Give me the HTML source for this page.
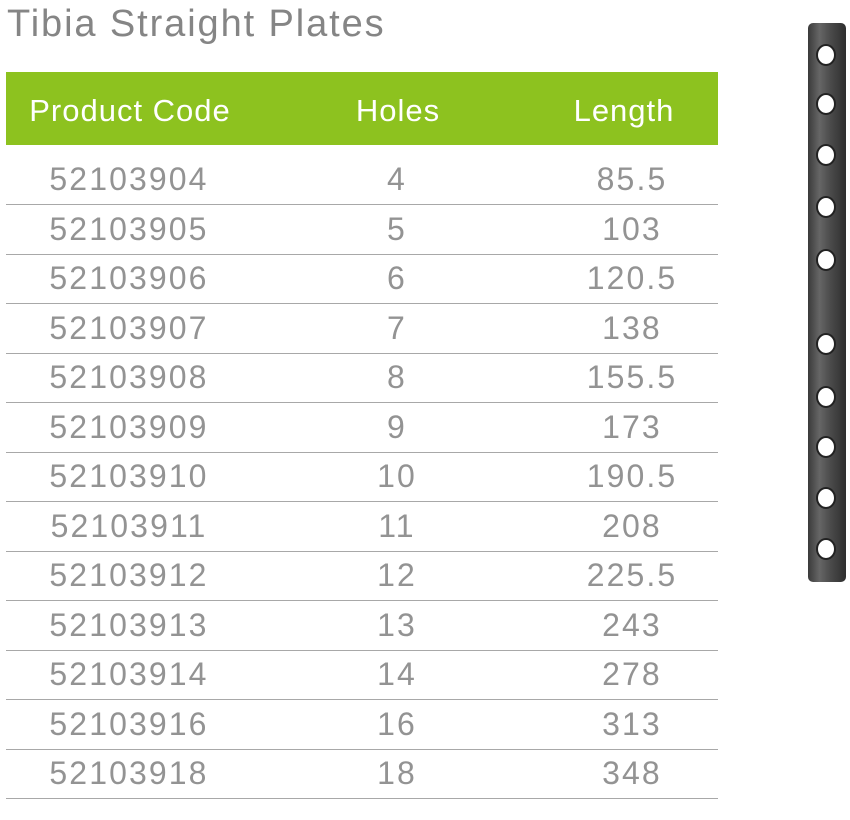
<!DOCTYPE html>
<html><head><meta charset="utf-8"><style>
body{margin:0;width:850px;height:820px;background:#fff;position:relative;overflow:hidden;font-family:"Liberation Sans",sans-serif}
.t{position:absolute;left:7px;top:3px;font-size:38px;letter-spacing:1.9px;color:#858585;white-space:nowrap}
.hdr{position:absolute;left:6px;top:72px;width:712px;height:73px;background:#8dc21f}
.h{position:absolute;top:0;height:73px;line-height:78px;color:#fff;font-size:31px;letter-spacing:1px;text-align:center;width:240px}
.row{position:absolute;left:6px;width:712px;height:49px;border-bottom:1.5px solid #a8a8a8}
.c{position:absolute;top:0;height:49px;line-height:49px;font-size:32px;letter-spacing:2.1px;color:#939393;text-align:center;width:240px}
</style></head><body>
<div class="t">Tibia Straight Plates</div>
<div class="hdr">
<div class="h" style="left:4px">Product Code</div>
<div class="h" style="left:272px">Holes</div>
<div class="h" style="left:498px">Length</div>
</div>
<div id="rows"></div>
<svg style="position:absolute;left:0;top:0" width="850" height="820">
<defs><linearGradient id="g" x1="0" x2="1"><stop offset="0" stop-color="#3a3a3a"/><stop offset="0.3" stop-color="#666"/><stop offset="0.6" stop-color="#4a4a4a"/><stop offset="1" stop-color="#2e2e2e"/></linearGradient></defs>
<rect x="808" y="23" width="38" height="559" rx="5" fill="url(#g)"/>
<g id="holes" fill="#fff" stroke="#222" stroke-width="2"></g>
</svg>
<script>
const codes=["52103904","52103905","52103906","52103907","52103908","52103909","52103910","52103911","52103912","52103913","52103914","52103916","52103918"];
const holes=["4","5","6","7","8","9","10","11","12","13","14","16","18"];
const lengths=["85.5","103","120.5","138","155.5","173","190.5","208","225.5","243","278","313","348"];
const rows=document.getElementById('rows');
codes.forEach((c,i)=>{
 const r=document.createElement('div');r.className='row';
 
 
 const bottom=204+i*49.5;r.style.top=(bottom-49)+'px';
 [[c,3],[holes[i],271],[lengths[i],506]].forEach(([v,l],j)=>{
  const d=document.createElement('div');d.className='c';d.style.left=l+'px';d.textContent=v;
  
  
  r.appendChild(d);
 });
 rows.appendChild(r);
});
const hy=[55,104,155,207,260,344,397,447,498,549];
const g=document.getElementById('holes');
hy.forEach(y=>{
 const e=document.createElementNS('http://www.w3.org/2000/svg','ellipse');
 e.setAttribute('cx',826);e.setAttribute('cy',y);e.setAttribute('rx',9);e.setAttribute('ry',10);
 
 
 g.appendChild(e);
});
</script>
</body></html>
